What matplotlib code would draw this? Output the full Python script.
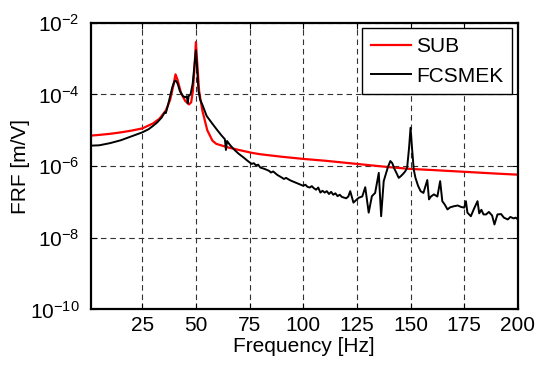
import numpy as np
import matplotlib
matplotlib.use('Agg')
from matplotlib import pyplot as plt

plt.rcParams['font.family'] = ['Liberation Sans', 'DejaVu Sans']
plt.rcParams['mathtext.default'] = 'regular'

# SUB model (red), frequency [Hz] and log10 of FRF [m/V]
sub_f = [1, 5, 10, 15, 20, 25, 30, 33, 36, 38, 39.5, 40.5, 41.5, 43, 45, 46.8,
         47.8, 48.6, 49.3, 50, 50.7, 51.5, 53, 55.3, 57.7, 59.5, 65, 70, 76,
         80, 90, 100, 110, 125, 140, 150, 160, 175, 190, 200]
sub_log = [-5.15, -5.13, -5.1, -5.06, -5.01, -4.95, -4.81, -4.68, -4.45, -4.15,
           -3.75, -3.44, -3.6, -3.95, -4.18, -4.28, -4.22, -3.9, -3.3, -2.54,
           -3.2, -3.9, -4.45, -5.0, -5.29, -5.38, -5.48, -5.55, -5.63, -5.67,
           -5.74, -5.8, -5.85, -5.94, -6.03, -6.08, -6.11, -6.16, -6.21, -6.24]

# FCSMEK simulation (black)
fcs_f = [1, 5, 10, 15, 20, 25, 28, 30, 32, 34, 35, 35.5, 36, 37, 38, 39, 40,
         40.6, 41.5, 42.5, 44, 45, 45.8, 46.2, 46.6, 47.5, 48.5, 49.3, 50, 50.6,
         51.2, 52, 53.1, 55, 57.7, 60, 62, 63.5, 64, 64.5, 66, 68, 70, 72, 74,
         76, 77, 78, 79, 80, 82, 84, 85, 86, 88, 90, 91, 92, 94, 96, 98, 100,
         101, 102, 103, 104, 105, 106, 107, 108, 109, 110, 111, 112, 113, 114,
         115, 116, 117, 118, 119, 120, 121, 121.9, 123.4, 125, 126, 127.5, 128.9,
         130.5, 132, 133.5, 135.2, 136.3, 137.5, 138.5, 139.5, 140.6, 141.5,
         142.5, 143.5, 144.5, 145.5, 146.5, 147.5, 148.4, 149.3, 150, 150.7,
         151.5, 152.3, 153.5, 154.7, 156, 157.8, 158.6, 159.5, 160.9, 162.5,
         163.8, 164.8, 166, 167.2, 168.5, 170.3, 172, 173.5, 175, 175.8, 176.5,
         178.1, 179.5, 181.2, 182, 183, 184, 185.2, 186.5, 188, 189.1, 190.5,
         192.2, 193.5, 195.3, 196.5, 198, 199, 200]
fcs_log = [-5.43, -5.42, -5.36, -5.28, -5.17, -5.06, -4.97, -4.88, -4.78, -4.65,
           -4.55, -4.5, -4.52, -4.3, -4.05, -3.8, -3.64, -3.61, -3.7, -3.9, -4.05,
           -4.08, -4.05, -4.25, -4.05, -4.0, -3.7, -3.2, -2.77, -3.3, -3.9, -4.15,
           -4.3, -4.6, -4.82, -5.0, -5.15, -5.25, -5.55, -5.3, -5.42, -5.55, -5.66,
           -5.75, -5.85, -5.94, -5.92, -5.98, -5.96, -6.04, -6.08, -6.13, -6.18,
           -6.15, -6.25, -6.32, -6.36, -6.33, -6.4, -6.45, -6.5, -6.55, -6.52,
           -6.58, -6.6, -6.56, -6.62, -6.66, -6.6, -6.74, -6.69, -6.74, -6.7,
           -6.78, -6.72, -6.8, -6.76, -6.84, -6.8, -6.86, -6.88, -6.9, -6.85,
           -6.7, -7.02, -6.93, -6.88, -6.85, -6.59, -7.3, -6.84, -6.75, -6.19,
           -7.4, -6.42, -6.22, -6.02, -5.86, -5.92, -6.08, -6.2, -6.33, -6.28,
           -6.22, -6.15, -6.05, -5.5, -4.93, -5.5, -6.1, -6.33, -6.55, -6.7,
           -6.75, -6.39, -6.93, -6.85, -6.79, -6.85, -6.42, -6.98, -7.08, -7.21,
           -7.15, -7.12, -7.1, -7.14, -7.16, -6.98, -7.3, -7.4, -7.2, -6.98,
           -7.32, -7.22, -7.35, -7.35, -7.28, -7.38, -7.63, -7.35, -7.34, -7.44,
           -7.49, -7.42, -7.46, -7.44, -7.49]

x_ticks = [25, 50, 75, 100, 125, 150, 175, 200]
y_ticks = [1e-10, 1e-8, 1e-6, 1e-4, 1e-2]

fig = plt.figure(figsize=(5.4, 3.67), dpi=100)
ax = fig.add_axes([0.168, 0.157, 0.791, 0.781])

ax.semilogy(sub_f, 10.0 ** np.array(sub_log), color='#ff0000', lw=1.6, label='SUB')
ax.semilogy(fcs_f, 10.0 ** np.array(fcs_log), color='black', lw=1.4, label='FCSMEK')

ax.set_xlim(1, 200)
ax.set_ylim(1e-10, 1e-2)
ax.set_xticks(x_ticks)
ax.set_yticks(y_ticks)
ax.minorticks_off()
ax.tick_params(direction='in', length=4, width=0.8, top=True, right=True,
               labelsize=15)
ax.tick_params(axis='y', pad=8)
ax.tick_params(axis='x', pad=4.5)
ax.grid(True, color='#333333', ls=(0, (5, 3.5)), lw=0.8)
for s in ax.spines.values():
    s.set_linewidth(1.6)

ax.set_xlabel('Frequency [Hz]', fontsize=15, labelpad=2)
ax.set_ylabel('FRF [m/V]', fontsize=15, labelpad=0)

leg = ax.legend(loc='upper right', fontsize=15, fancybox=False, framealpha=1,
                edgecolor='black', handlelength=1.92, borderaxespad=0.27,
                handletextpad=0.25, borderpad=0.42, labelspacing=0.5)
leg.get_frame().set_linewidth(1.0)

plt.savefig('out.png', dpi=100)
